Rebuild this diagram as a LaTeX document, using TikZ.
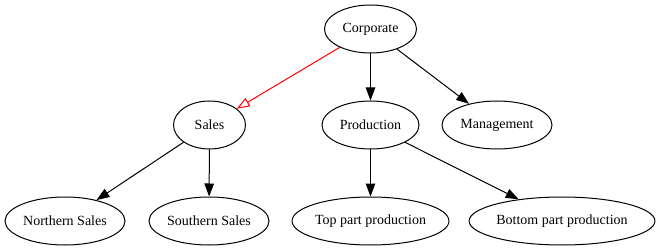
\documentclass[tikz,border=0pt]{standalone}
\usepackage{fontspec}
\setmainfont{Liberation Serif}
\usetikzlibrary{arrows.meta,shapes.geometric}
\begin{document}
\begin{tikzpicture}[x=1pt,y=-1pt,
  nd/.style={draw,ellipse,line width=1pt,inner sep=0pt,minimum height=48pt,font=\fontsize{14}{16}\selectfont},
  edge/.style={draw,line width=1pt,-{Triangle[length=13pt,width=9.5pt]}},
  redge/.style={draw=red,line width=1pt,-{Triangle[open,length=13pt,width=9.5pt]}}]
\useasboundingbox (0,0) rectangle (656,251);
\node[nd,minimum width=92pt]  (corp) at (370.5,29) {Corporate};
\node[nd,minimum width=72pt]  (sales) at (209.5,125) {Sales};
\node[nd,minimum width=97pt]  (prod) at (370.5,125) {Production};
\node[nd,minimum width=110pt] (mgmt) at (497,125) {Management};
\node[nd,minimum width=120pt] (north) at (65,221) {Northern Sales};
\node[nd,minimum width=120pt] (south) at (209,221) {Southern Sales};
\node[nd,minimum width=155pt] (top) at (370.5,221) {Top part production};
\node[nd,minimum width=180pt] (bottom) at (562,221) {Bottom part production};
\draw[redge] (corp) -- (sales);
\draw[edge] (corp) -- (prod);
\draw[edge] (corp) -- (mgmt);
\draw[edge] (sales) -- (north);
\draw[edge] (sales) -- (south);
\draw[edge] (prod) -- (top);
\draw[edge] (prod) -- (bottom);
\end{tikzpicture}
\end{document}
